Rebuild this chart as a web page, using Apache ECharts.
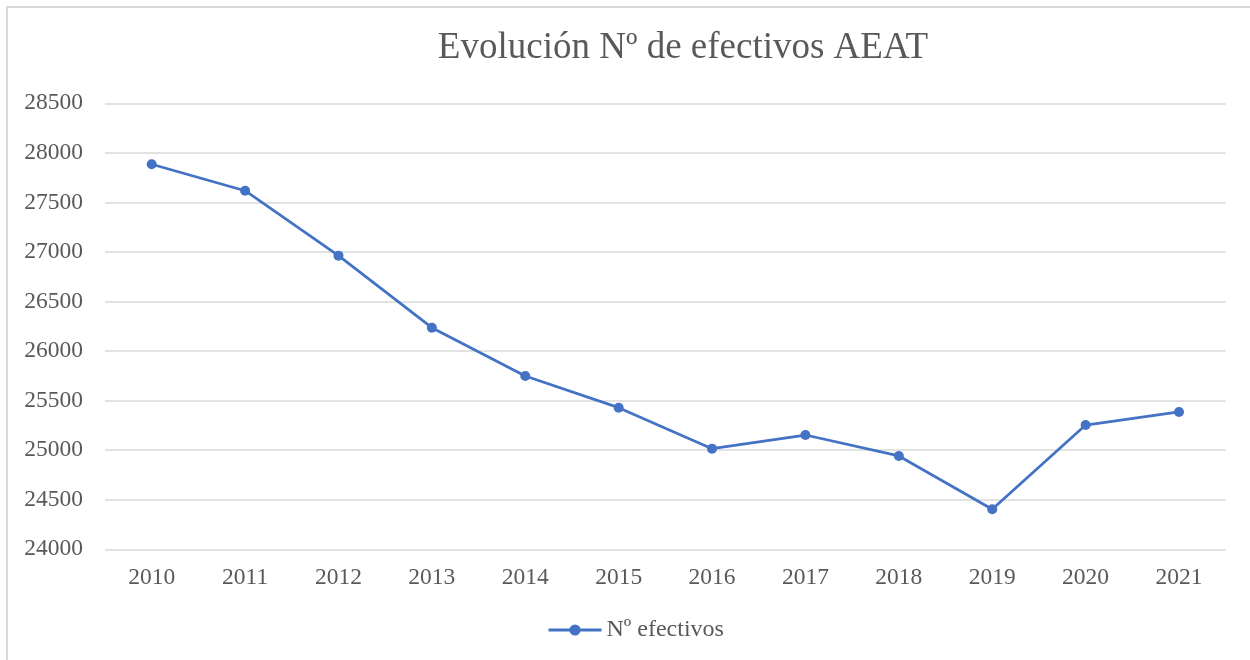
<!DOCTYPE html>
<html>
<head>
<meta charset="utf-8">
<script src="https://cdn.jsdelivr.net/npm/echarts@6/dist/echarts.min.js"></script>
<style>
  html, body { margin: 0; padding: 0; background: #ffffff; overflow: hidden; }
  #frame { position: absolute; left: 6px; top: 6px; width: 1300px; height: 700px; border: 2px solid #d9d9d9; box-sizing: border-box; }
  #chart { position: absolute; left: 0; top: 0; width: 1250px; height: 660px; }
</style>
</head>
<body>
<div id="frame"></div>
<div id="chart"></div>
<script>
const titleText = 'Evolución Nº de efectivos AEAT';
const seriesName = 'Nº efectivos';
const years = ['2010', '2011', '2012', '2013', '2014', '2015', '2016', '2017', '2018', '2019', '2020', '2021'];
const efectivos = [27885, 27618, 26963, 26236, 25749, 25429, 25015, 25153, 24942, 24404, 25254, 25386];
const yMin = 24000;
const yMax = 28500;
const yStep = 500;

const font = "'Liberation Serif', 'Times New Roman', serif";
const textColor = '#595959';
const lineColor = '#4472C4';

const chart = echarts.init(document.getElementById('chart'), null, { renderer: 'canvas' });
chart.setOption({
  backgroundColor: 'transparent',
  animation: false,
  title: {
    text: titleText,
    left: 678,
    textAlign: 'center',
    top: 25,
    textStyle: { fontFamily: font, fontSize: 37, fontWeight: 'normal', color: textColor }
  },
  legend: {
    data: [seriesName],
    left: 547,
    top: 618,
    padding: 0,
    itemWidth: 53,
    itemHeight: 14,
    itemGap: 6,
    lineStyle: { width: 3 },
    textStyle: { fontFamily: font, fontSize: 24, color: textColor, padding: [0, 0, 0, 0] }
  },
  grid: { left: 105, right: 24.3, top: 103.3, bottom: 110.7, containLabel: false },
  xAxis: {
    type: 'category',
    data: years,
    boundaryGap: true,
    axisLine: { show: false },
    axisTick: { show: false },
    axisLabel: { fontFamily: font, fontSize: 23.5, color: textColor, margin: 17 },
    splitLine: { show: false }
  },
  yAxis: {
    type: 'value',
    min: yMin,
    max: yMax,
    interval: yStep,
    axisLine: { show: false },
    axisTick: { show: false },
    axisLabel: { fontFamily: font, fontSize: 23.5, color: textColor, margin: 22, formatter: (v) => String(v) },
    splitLine: { show: true, lineStyle: { color: '#d9d9d9', width: 1.5 } }
  },
  series: [{
    name: seriesName,
    type: 'line',
    data: efectivos,
    symbol: 'circle',
    symbolSize: 10,
    itemStyle: { color: lineColor },
    lineStyle: { color: lineColor, width: 2.75 }
  }]
});
</script>
</body>
</html>
